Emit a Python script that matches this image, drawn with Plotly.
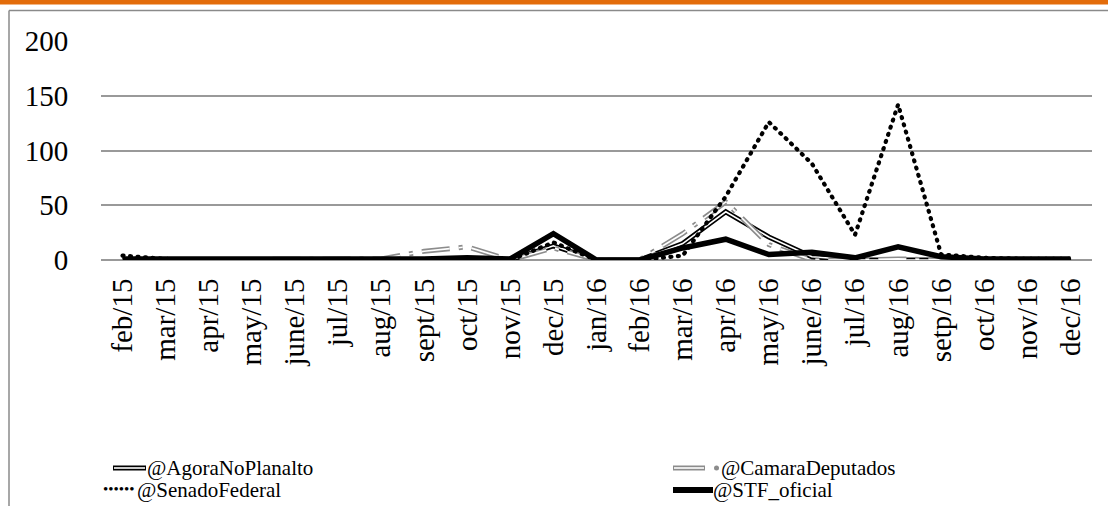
import plotly.graph_objects as go

months = ["feb/15", "mar/15", "apr/15", "may/15", "june/15", "jul/15", "aug/15",
          "sept/15", "oct/15", "nov/15", "dec/15", "jan/16", "feb/16", "mar/16",
          "apr/16", "may/16", "june/16", "jul/16", "aug/16", "setp/16", "oct/16",
          "nov/16", "dec/16"]
agora = [0, 0, 0, 0, 0, 0, 0, 0, 0, 0, 13, 0, 0, 15, 44, 21, 3, 0, 0, 0, 0, 0, 0]
camara = [0, 0, 0, 0, 0, 0, 1, 8, 12, 0, 11, 0, 0, 24, 53, 14, 0, 0, 1, 0, 0, 0, 0]
senado = [4, 1, 0, 0, 0, 0, 0, 0, 0, 0, 16, 0, 0, 4, 58, 126, 88, 23, 142, 5, 2, 1, 1]
stf = [1, 1, 1, 0, 0, 0, 0, 1, 2, 1, 24, 0, 0, 11, 19, 5, 7, 2, 12, 3, 1, 1, 1]
yticks = [0, 50, 100, 150, 200]

W, H = 1108, 506
L, R, T, B = 101, 16, 41, 246
PW, PH = W - L - R, H - T - B
FONT = "Liberation Serif"


def px(x):
    return (x - L) / PW


def py(y):
    return (H - B - y) / PH


fig = go.Figure()
# @AgoraNoPlanalto: black double line with white core
fig.add_trace(go.Scatter(x=months, y=agora, mode="lines", name="@AgoraNoPlanalto",
                         line=dict(color="black", width=5), showlegend=False))
fig.add_trace(go.Scatter(x=months, y=agora, mode="lines", line=dict(color="white", width=1.6),
                         showlegend=False, hoverinfo="skip"))
# @CamaraDeputados: gray dashed double line
cam_dash = "28px,9px,4px,9px"
fig.add_trace(go.Scatter(x=months, y=camara, mode="lines", name="@CamaraDeputados",
                         line=dict(color="#8c8c8c", width=5, dash=cam_dash), showlegend=False))
fig.add_trace(go.Scatter(x=months, y=camara, mode="lines",
                         line=dict(color="white", width=1.6, dash=cam_dash),
                         showlegend=False, hoverinfo="skip"))
# @SenadoFederal: round-dotted black
sen_dash = "1px,6.5px"
fig.add_trace(go.Scatter(x=months, y=senado, mode="lines", name="@SenadoFederal",
                         line=dict(color="black", width=4.2, dash=sen_dash), showlegend=False))
# @STF_oficial: thick black
fig.add_trace(go.Scatter(x=months, y=stf, mode="lines", name="@STF_oficial",
                         line=dict(color="black", width=5.5), showlegend=False))

shapes = []
# top orange bar
shapes.append(dict(type="rect", xref="paper", yref="paper", x0=px(0), x1=px(W), y0=py(4.5), y1=py(0),
                   fillcolor="#E36C0A", line=dict(width=0), layer="below"))
# gray frame (left and top)
shapes.append(dict(type="line", xref="paper", yref="paper", x0=px(9), x1=px(W + 5), y0=py(10.5), y1=py(10.5),
                   line=dict(color="#8a8a8a", width=1.5)))
shapes.append(dict(type="line", xref="paper", yref="paper", x0=px(9), x1=px(9), y0=py(10.5), y1=py(H + 5),
                   line=dict(color="#8a8a8a", width=1.5)))

# manual legend
annotations = []
r1, r2 = 468, 490
LF = dict(family=FONT, size=21, color="black")
# Agora symbol (double line)
shapes.append(dict(type="line", xref="paper", yref="paper", x0=px(113), x1=px(146), y0=py(r1), y1=py(r1),
                   line=dict(color="black", width=5)))
shapes.append(dict(type="line", xref="paper", yref="paper", x0=px(114), x1=px(145), y0=py(r1), y1=py(r1),
                   line=dict(color="white", width=1.6)))
annotations.append(dict(xref="paper", yref="paper", x=px(146), y=py(r1), text="@AgoraNoPlanalto",
                        showarrow=False, xanchor="left", yanchor="middle", font=LF, borderpad=0))
# Camara symbol
shapes.append(dict(type="line", xref="paper", yref="paper", x0=px(673), x1=px(705), y0=py(r1), y1=py(r1),
                   line=dict(color="#8c8c8c", width=5)))
shapes.append(dict(type="line", xref="paper", yref="paper", x0=px(674), x1=px(704), y0=py(r1), y1=py(r1),
                   line=dict(color="white", width=1.6)))
shapes.append(dict(type="circle", xref="paper", yref="paper", x0=px(714), x1=px(719), y0=py(r1 + 2.5),
                   y1=py(r1 - 2.5), fillcolor="#8c8c8c", line=dict(width=0)))
annotations.append(dict(xref="paper", yref="paper", x=px(720), y=py(r1), text="@CamaraDeputados",
                        showarrow=False, xanchor="left", yanchor="middle", font=LF, borderpad=0))
# Senado symbol (round dots)
annotations.append(dict(xref="paper", yref="paper", x=px(102), y=py(r2 - 1), text="••••••",
                        showarrow=False, xanchor="left", yanchor="middle",
                        font=dict(family=FONT, size=15, color="black"), borderpad=0))
annotations.append(dict(xref="paper", yref="paper", x=px(136), y=py(r2), text="@SenadoFederal",
                        showarrow=False, xanchor="left", yanchor="middle", font=LF, borderpad=0))
# STF symbol
shapes.append(dict(type="line", xref="paper", yref="paper", x0=px(673), x1=px(713), y0=py(r2), y1=py(r2),
                   line=dict(color="black", width=6)))
annotations.append(dict(xref="paper", yref="paper", x=px(712), y=py(r2), text="@STF_oficial",
                        showarrow=False, xanchor="left", yanchor="middle", font=LF, borderpad=0))

fig.update_layout(
    width=W, height=H,
    margin=dict(l=L, r=R, t=T, b=B),
    paper_bgcolor="white", plot_bgcolor="white",
    showlegend=False,
    shapes=shapes, annotations=annotations,
    font=dict(family=FONT, color="black"),
)
fig.update_xaxes(type="category", range=[-0.5, len(months) - 0.5], showgrid=False, showline=False,
                 zeroline=False, tickangle=-90, ticks="outside", ticklen=6, tickcolor="rgba(0,0,0,0)",
                 tickfont=dict(family=FONT, size=29, color="black"))
fig.update_yaxes(range=[0, 200], tickvals=yticks, showgrid=True, gridcolor="#999999", gridwidth=1.5,
                 zeroline=True, zerolinecolor="#999999", zerolinewidth=1.5, showline=False,
                 ticks="outside", ticklen=26, tickcolor="rgba(0,0,0,0)",
                 tickfont=dict(family=FONT, size=29, color="black"))

post = (
    "document.body.style.margin='0px';document.body.style.overflow='hidden';"
    "var tr=document.querySelectorAll('.scatterlayer .trace');"
    "if(tr.length>4){tr[4].querySelectorAll('path.js-line').forEach(function(p){"
    "p.style.strokeLinecap='round';});}"
)
fig.write_html("out.html", config={"displayModeBar": False}, post_script=post)
